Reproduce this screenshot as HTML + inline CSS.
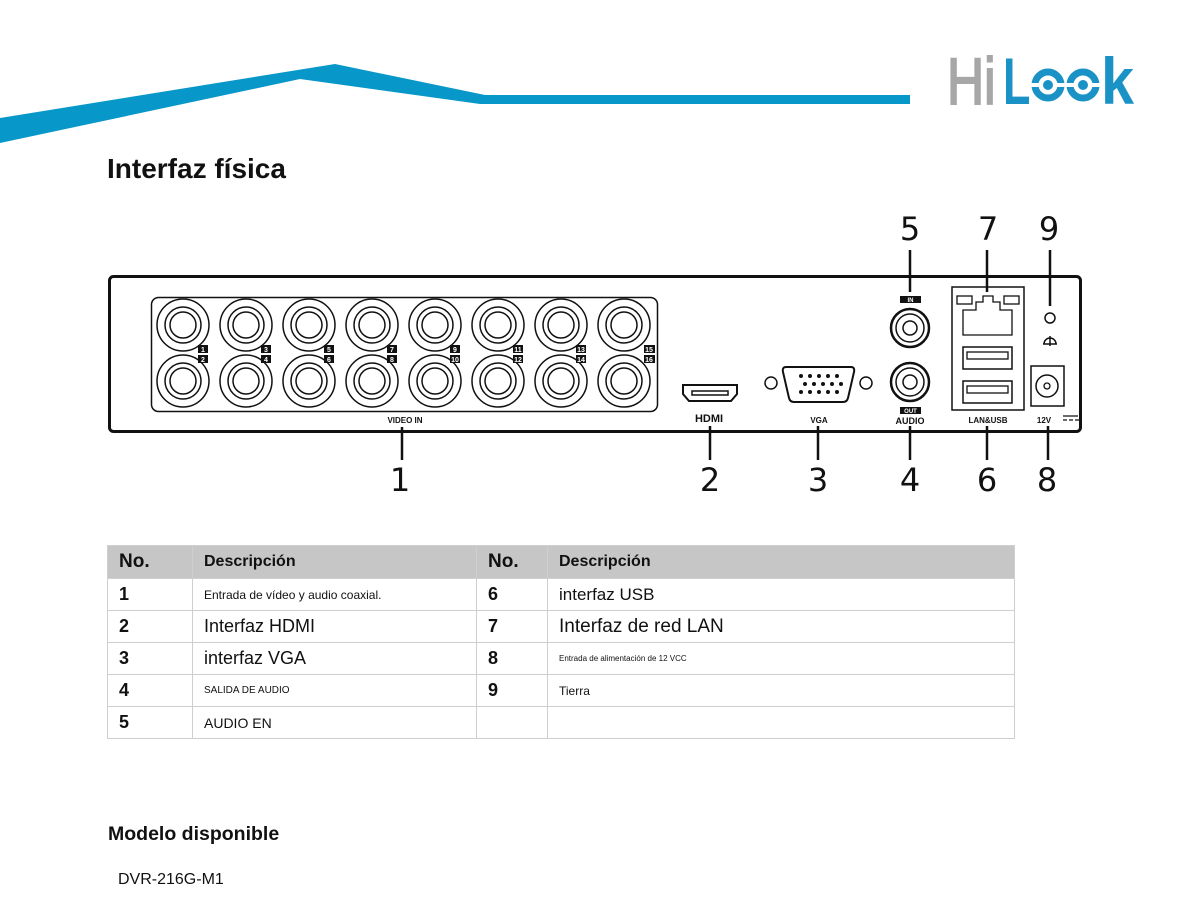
<!DOCTYPE html>
<html><head><meta charset="utf-8"><style>
html,body{margin:0;padding:0;background:#fff;}
body{width:1189px;height:911px;position:relative;overflow:hidden;font-family:"Liberation Sans",sans-serif;color:#111;}
.abs{position:absolute;}
table{border-collapse:collapse;position:absolute;left:107px;top:545px;width:908px;}
td{border:1px solid #cfcfcf;height:31px;padding:0 0 0 11px;font-size:16px;vertical-align:middle;}
td.n{font-weight:bold;font-size:18px;padding-left:11px;}
tr.h td{background:#c6c6c6;font-weight:bold;height:32px;}
</style></head><body>
<svg class="abs" style="left:0;top:0" width="1189" height="911">
<polygon points="0,118 335,64 485,95 910,95 910,104 480,104 300,79 0,143" fill="#0797c9"/>
<text transform="translate(947,104) scale(0.78,1)" font-size="66" fill="#a7a7a7" stroke="#a7a7a7" stroke-width="2">Hi</text>
<text transform="translate(1003,104) scale(0.68,1)" font-size="66" font-weight="bold" fill="#1b92c6">L</text>
<g fill="none" stroke="#1b92c6" stroke-width="7">
<circle cx="1048" cy="85" r="13"/><circle cx="1083" cy="85" r="13"/></g>
<g fill="#1b92c6"><circle cx="1048" cy="85" r="5"/><circle cx="1083" cy="85" r="5"/>
<rect x="1030" y="83" width="9" height="4" fill="#fff"/><rect x="1057" y="83" width="9" height="4" fill="#fff"/>
<rect x="1065" y="83" width="9" height="4" fill="#fff"/><rect x="1092" y="83" width="9" height="4" fill="#fff"/></g>
<text transform="translate(1101,104) scale(0.9,1)" font-size="66" font-weight="bold" fill="#1b92c6">k</text>

<text x="107" y="178" font-size="28" font-weight="bold" fill="#111">Interfaz física</text>

<rect x="109.5" y="276.5" width="971" height="155" rx="4" fill="none" stroke="#111" stroke-width="3"/>
<rect x="151.5" y="297.5" width="506" height="114" rx="7" fill="none" stroke="#111" stroke-width="1.5"/>
<g fill="none" stroke="#111" stroke-width="1.5">
<circle cx="183" cy="325" r="26"/><circle cx="183" cy="325" r="18"/><circle cx="183" cy="325" r="13"/>
<circle cx="246" cy="325" r="26"/><circle cx="246" cy="325" r="18"/><circle cx="246" cy="325" r="13"/>
<circle cx="309" cy="325" r="26"/><circle cx="309" cy="325" r="18"/><circle cx="309" cy="325" r="13"/>
<circle cx="372" cy="325" r="26"/><circle cx="372" cy="325" r="18"/><circle cx="372" cy="325" r="13"/>
<circle cx="435" cy="325" r="26"/><circle cx="435" cy="325" r="18"/><circle cx="435" cy="325" r="13"/>
<circle cx="498" cy="325" r="26"/><circle cx="498" cy="325" r="18"/><circle cx="498" cy="325" r="13"/>
<circle cx="561" cy="325" r="26"/><circle cx="561" cy="325" r="18"/><circle cx="561" cy="325" r="13"/>
<circle cx="624" cy="325" r="26"/><circle cx="624" cy="325" r="18"/><circle cx="624" cy="325" r="13"/>
<circle cx="183" cy="381" r="26"/><circle cx="183" cy="381" r="18"/><circle cx="183" cy="381" r="13"/>
<circle cx="246" cy="381" r="26"/><circle cx="246" cy="381" r="18"/><circle cx="246" cy="381" r="13"/>
<circle cx="309" cy="381" r="26"/><circle cx="309" cy="381" r="18"/><circle cx="309" cy="381" r="13"/>
<circle cx="372" cy="381" r="26"/><circle cx="372" cy="381" r="18"/><circle cx="372" cy="381" r="13"/>
<circle cx="435" cy="381" r="26"/><circle cx="435" cy="381" r="18"/><circle cx="435" cy="381" r="13"/>
<circle cx="498" cy="381" r="26"/><circle cx="498" cy="381" r="18"/><circle cx="498" cy="381" r="13"/>
<circle cx="561" cy="381" r="26"/><circle cx="561" cy="381" r="18"/><circle cx="561" cy="381" r="13"/>
<circle cx="624" cy="381" r="26"/><circle cx="624" cy="381" r="18"/><circle cx="624" cy="381" r="13"/>
</g>
<g fill="#111" font-size="8" font-weight="bold" text-anchor="middle">
<g>
<rect x="198" y="345" width="10" height="8"/><rect x="198" y="355" width="10" height="8"/>
<rect x="261" y="345" width="10" height="8"/><rect x="261" y="355" width="10" height="8"/>
<rect x="324" y="345" width="10" height="8"/><rect x="324" y="355" width="10" height="8"/>
<rect x="387" y="345" width="10" height="8"/><rect x="387" y="355" width="10" height="8"/>
<rect x="450" y="345" width="10" height="8"/><rect x="450" y="355" width="10" height="8"/>
<rect x="513" y="345" width="10" height="8"/><rect x="513" y="355" width="10" height="8"/>
<rect x="576" y="345" width="10" height="8"/><rect x="576" y="355" width="10" height="8"/>
<rect x="644" y="345" width="11" height="8"/><rect x="644" y="355" width="11" height="8"/>
</g>
<g fill="#fff" font-size="7">
<text x="203" y="352">1</text><text x="203" y="362">2</text>
<text x="266" y="352">3</text><text x="266" y="362">4</text>
<text x="329" y="352">5</text><text x="329" y="362">6</text>
<text x="392" y="352">7</text><text x="392" y="362">8</text>
<text x="455" y="352">9</text><text x="455" y="362">10</text>
<text x="518" y="352">11</text><text x="518" y="362">12</text>
<text x="581" y="352">13</text><text x="581" y="362">14</text>
<text x="649" y="352">15</text><text x="649" y="362">16</text>
</g>
<text x="405" y="423">VIDEO IN</text>
<text x="709" y="422" font-size="11" font-weight="900">HDMI</text>
<text x="819" y="423">VGA</text>
<text x="910" y="424" font-size="9">AUDIO</text>
<text x="988" y="423">LAN&amp;USB</text>
<text x="1044" y="423">12V</text>
</g>
<path d="M683,385 H737 V394 L731,401 H689 L683,394 Z" fill="none" stroke="#111" stroke-width="2"/>
<rect x="692" y="391" width="36" height="4" fill="none" stroke="#111" stroke-width="1.5"/>
<circle cx="771" cy="383" r="6" fill="none" stroke="#111" stroke-width="1.5"/>
<circle cx="866" cy="383" r="6" fill="none" stroke="#111" stroke-width="1.5"/>
<path d="M786,367 H851 Q855,367 854,372 L848,398 Q847,402 843,402 H794 Q790,402 789,398 L783,372 Q782,367 786,367Z" fill="none" stroke="#111" stroke-width="2"/>
<g fill="#111">
<circle cx="801" cy="376" r="2"/><circle cx="810" cy="376" r="2"/><circle cx="819" cy="376" r="2"/><circle cx="828" cy="376" r="2"/><circle cx="837" cy="376" r="2"/>
<circle cx="805" cy="384" r="2"/><circle cx="814" cy="384" r="2"/><circle cx="823" cy="384" r="2"/><circle cx="832" cy="384" r="2"/><circle cx="841" cy="384" r="2"/>
<circle cx="801" cy="392" r="2"/><circle cx="810" cy="392" r="2"/><circle cx="819" cy="392" r="2"/><circle cx="828" cy="392" r="2"/><circle cx="837" cy="392" r="2"/>
</g>
<rect x="900" y="296" width="21" height="7" fill="#111"/><text x="910.5" y="302" font-size="6" fill="#fff" font-weight="bold" text-anchor="middle">IN</text>
<circle cx="910" cy="328" r="19" fill="none" stroke="#111" stroke-width="2.5"/><circle cx="910" cy="328" r="14" fill="none" stroke="#111" stroke-width="1.5"/><circle cx="910" cy="328" r="7" fill="none" stroke="#111" stroke-width="1.5"/>
<circle cx="910" cy="382" r="19" fill="none" stroke="#111" stroke-width="2.5"/><circle cx="910" cy="382" r="14" fill="none" stroke="#111" stroke-width="1.5"/><circle cx="910" cy="382" r="7" fill="none" stroke="#111" stroke-width="1.5"/>
<rect x="900" y="407" width="21" height="7" fill="#111"/><text x="910.5" y="413" font-size="6" fill="#fff" font-weight="bold" text-anchor="middle">OUT</text>
<path d="M952,410 V287 H1024 V410 Z" fill="none" stroke="#111" stroke-width="1.5"/>
<rect x="957" y="296" width="15" height="8" fill="none" stroke="#111" stroke-width="1.3"/><rect x="1004" y="296" width="15" height="8" fill="none" stroke="#111" stroke-width="1.3"/>
<path d="M963,335 V310 H976 V302 H983 V296 H993 V302 H1000 V310 H1012 V335 Z" fill="none" stroke="#111" stroke-width="1.3"/>
<rect x="963" y="347" width="49" height="22" fill="none" stroke="#111" stroke-width="1.5"/><rect x="967" y="352" width="41" height="7" fill="none" stroke="#111" stroke-width="1.3"/>
<rect x="963" y="381" width="49" height="22" fill="none" stroke="#111" stroke-width="1.5"/><rect x="967" y="386" width="41" height="7" fill="none" stroke="#111" stroke-width="1.3"/>
<circle cx="1050" cy="318" r="5" fill="none" stroke="#111" stroke-width="1.5"/>
<path d="M1044,344 a6,6 0 0 1 12,0 M1050,336 v10 M1043,344 h14" fill="none" stroke="#111" stroke-width="1.5"/>
<rect x="1031" y="366" width="33" height="40" fill="none" stroke="#111" stroke-width="1.5"/>
<circle cx="1047" cy="386" r="11" fill="none" stroke="#111" stroke-width="1.5"/><circle cx="1047" cy="386" r="3" fill="none" stroke="#111" stroke-width="1.3"/>
<path d="M1063,416 h15 M1063,420 h4 M1069,420 h4 M1075,420 h4" stroke="#111" stroke-width="1.3"/>
<g stroke="#111" stroke-width="2.5">
<line x1="402" y1="427" x2="402" y2="460"/><line x1="710" y1="426" x2="710" y2="460"/>
<line x1="818" y1="426" x2="818" y2="460"/><line x1="910" y1="426" x2="910" y2="460"/>
<line x1="987" y1="426" x2="987" y2="460"/><line x1="1048" y1="426" x2="1048" y2="460"/>
<line x1="910" y1="250" x2="910" y2="292"/><line x1="987" y1="250" x2="987" y2="292"/>
<line x1="1050" y1="250" x2="1050" y2="306"/>
</g>
<g font-size="32" text-anchor="middle" fill="#111" font-family="DejaVu Sans, sans-serif">
<text x="910" y="240">5</text><text x="988" y="240">7</text><text x="1049" y="240">9</text>
<text x="400" y="491">1</text><text x="710" y="491">2</text><text x="818" y="491">3</text>
<text x="910" y="491">4</text><text x="987" y="491">6</text><text x="1047" y="491">8</text>
</g>
</svg>
<table>
<colgroup><col style="width:85px"><col style="width:284px"><col style="width:71px"><col></colgroup>
<tr class="h"><td class="n" style="font-size:19px">No.</td><td>Descripción</td><td class="n" style="font-size:19px">No.</td><td>Descripción</td></tr>
<tr><td class="n">1</td><td style="font-size:12px">Entrada de vídeo y audio coaxial.</td><td class="n">6</td><td style="font-size:17px">interfaz USB</td></tr>
<tr><td class="n">2</td><td style="font-size:18px">Interfaz HDMI</td><td class="n">7</td><td style="font-size:19px">Interfaz de red LAN</td></tr>
<tr><td class="n">3</td><td style="font-size:18px">interfaz VGA</td><td class="n">8</td><td style="font-size:8px">Entrada de alimentación de 12 VCC</td></tr>
<tr><td class="n">4</td><td style="font-size:10px">SALIDA DE AUDIO</td><td class="n">9</td><td style="font-size:12px">Tierra</td></tr>
<tr><td class="n">5</td><td style="font-size:14px">AUDIO EN</td><td></td><td></td></tr>
</table>
<div class="abs" style="left:108px;top:823px;font-size:19.5px;font-weight:bold;">Modelo disponible</div>
<div class="abs" style="left:118px;top:871px;font-size:16px;">DVR-216G-M1</div>
</body></html>
